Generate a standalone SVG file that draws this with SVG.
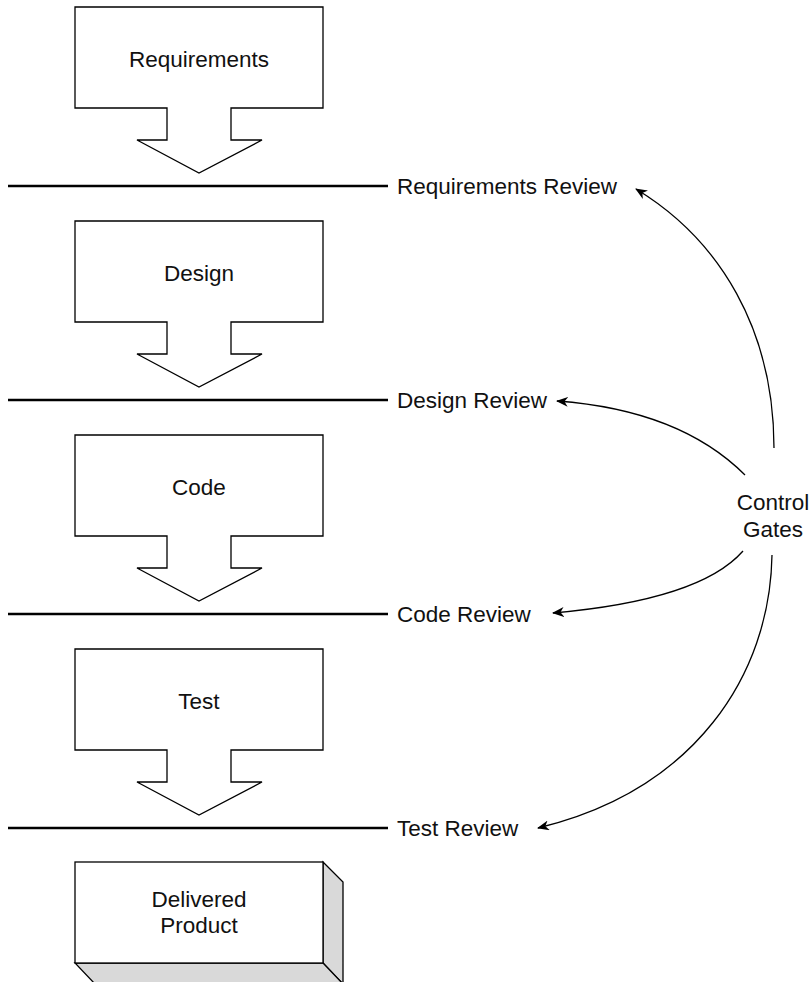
<svg xmlns="http://www.w3.org/2000/svg" width="810" height="982" viewBox="0 0 810 982">
<style>
.box{fill:#fff;stroke:#000;stroke-width:1.3;stroke-linejoin:miter}
.shade{fill:#d9d9d9;stroke:#000;stroke-width:1.3}
.gate{stroke:#000;stroke-width:2.6}
.lbl{font-family:"Liberation Sans",Arial,sans-serif;font-size:22.5px;fill:#111}
.mid{text-anchor:middle}
.conn{fill:none;stroke:#000;stroke-width:1.3}
</style>
<defs>
<marker id="ah" viewBox="0 0 12 10" refX="11" refY="5" markerWidth="12" markerHeight="10" markerUnits="userSpaceOnUse" orient="auto">
<path d="M0,0 L12,5 L0,10 L3.5,5 z" fill="#000"/>
</marker>
</defs>
<rect width="810" height="982" fill="#fff"/>
<g id="requirements">
<polygon class="box" points="75,7 323,7 323,108 231,108 231,140 262,140 199,173 137,140 167,140 167,108 75,108"/>
<text class="lbl mid" x="199" y="67">Requirements</text>
</g>
<g id="requirements-review">
<line class="gate" x1="8" y1="186" x2="388" y2="186"/>
<text class="lbl" x="397" y="194">Requirements Review</text>
</g>
<g id="design">
<polygon class="box" points="75,221 323,221 323,322 231,322 231,354 262,354 199,387 137,354 167,354 167,322 75,322"/>
<text class="lbl mid" x="199" y="281">Design</text>
</g>
<g id="design-review">
<line class="gate" x1="8" y1="400" x2="388" y2="400"/>
<text class="lbl" x="397" y="408">Design Review</text>
</g>
<g id="code">
<polygon class="box" points="75,435 323,435 323,536 231,536 231,568 262,568 199,601 137,568 167,568 167,536 75,536"/>
<text class="lbl mid" x="199" y="495">Code</text>
</g>
<g id="code-review">
<line class="gate" x1="8" y1="614" x2="388" y2="614"/>
<text class="lbl" x="397" y="622">Code Review</text>
</g>
<g id="test">
<polygon class="box" points="75,649 323,649 323,750 231,750 231,782 262,782 199,815 137,782 167,782 167,750 75,750"/>
<text class="lbl mid" x="199" y="709">Test</text>
</g>
<g id="test-review">
<line class="gate" x1="8" y1="828" x2="388" y2="828"/>
<text class="lbl" x="397" y="836">Test Review</text>
</g>
<g id="delivered-product">
<polygon class="shade" points="323,862 343,882 343,984 323,963"/>
<polygon class="shade" points="75,963 323,963 343,984 95,984"/>
<rect class="box" x="75" y="862" width="248" height="101"/>
<text class="lbl mid" x="199" y="907">Delivered</text>
<text class="lbl mid" x="199" y="933">Product</text>
</g>
<g id="control-gates">
<text class="lbl mid" x="773" y="510">Control</text>
<text class="lbl mid" x="773" y="537">Gates</text>
</g>
<g id="connectors">
<path class="conn" marker-end="url(#ah)" d="M774,448 C774,330 720,240 636,189"/>
<path class="conn" marker-end="url(#ah)" d="M745,475 Q680,410 557,401"/>
<path class="conn" marker-end="url(#ah)" d="M743,551 Q700,600 553,613"/>
<path class="conn" marker-end="url(#ah)" d="M772,555 C770,675 695,790 538,828"/>
</g>
</svg>
